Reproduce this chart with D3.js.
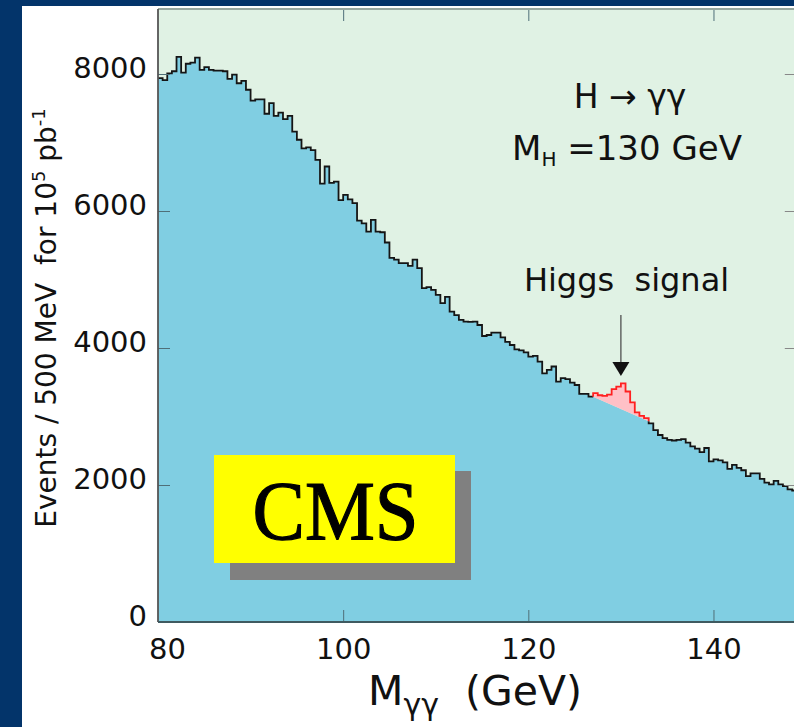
<!DOCTYPE html>
<html><head><meta charset="utf-8">
<script src="https://cdn.jsdelivr.net/npm/d3@7"></script>
<style>html,body{margin:0;padding:0;background:#fff;} svg{display:block;} text{white-space:pre;}</style>
</head><body>
<svg id="chart" width="794" height="727"></svg>
<script>
// ---------------- data ----------------
const binStart = 80;      // GeV
const binWidth = 0.5;     // GeV (500 MeV bins)
const counts = [
  7940, 7910, 8010, 8040, 8250, 8020, 8150, 8165, 8240, 8060,
  8100, 8060, 8050, 8050, 8040, 7930, 7990, 7865, 7900, 7770,
  7610, 7630, 7630, 7420, 7575, 7390, 7435, 7340, 7390, 7160,
  7040, 6915, 6930, 6890, 6745, 6400, 6650, 6410, 6430, 6160,
  6235, 6170, 6115, 5860, 5820, 5700, 5870, 5700, 5690, 5540,
  5315, 5290, 5240, 5240, 5200, 5290, 5165, 4875, 4890, 4850,
  4775, 4655, 4745, 4530, 4480, 4410, 4385, 4380, 4385, 4336,
  4175, 4190, 4225, 4225, 4156, 4090, 4044, 3980, 3965, 3935,
  3875, 3885, 3800, 3630, 3680, 3730, 3510, 3560, 3545, 3495,
  3460, 3330, 3330, 3290, 3340, 3310, 3300, 3320, 3400, 3435,
  3485, 3365, 3205, 3060, 3010, 2975, 2900, 2800, 2730, 2685,
  2660, 2650, 2660, 2670, 2620, 2565, 2530, 2480, 2540, 2345,
  2375, 2360, 2330, 2235, 2295, 2250, 2215, 2130, 2170, 2170,
  2090, 2035, 2010, 2060, 2010, 1985, 1935, 1920
];
const signalRange = [127, 133];              // GeV, bins drawn in red
const bkgFit = [[127, 3290], [133, 2930]];   // smooth background under the signal
const arrowAt = { x: 130, top: 4480, tip: 3590 };
const xTicks = [80, 100, 120, 140];
const yTicks = [0, 2000, 4000, 6000, 8000];
const xDomain = [80, 149];
const yDomain = [0, 8000];

// ---------------- layout ----------------
const svg = d3.select("#chart");
const W = 794, H = 727;
const plot = { left: 158, right: 796.8, top: 9, bottom: 622, yTopVal: 74 };
const FONT = "'DejaVu Sans', sans-serif";

const x = d3.scaleLinear().domain(xDomain).range([plot.left, plot.right]);
const y = d3.scaleLinear().domain(yDomain).range([plot.bottom, plot.yTopVal]);

// background & frame
svg.append("rect").attr("width", W).attr("height", H).attr("fill", "#ffffff");
svg.append("rect").attr("x", 0).attr("y", 0).attr("width", 22).attr("height", H).attr("fill", "#03346a");
svg.append("rect").attr("x", 0).attr("y", 0).attr("width", W).attr("height", 6).attr("fill", "#03346a");

svg.append("clipPath").attr("id", "clip").append("rect")
  .attr("x", plot.left).attr("y", plot.top)
  .attr("width", plot.right - plot.left).attr("height", plot.bottom - plot.top);

const g = svg.append("g").attr("clip-path", "url(#clip)");
g.append("rect").attr("x", plot.left).attr("y", plot.top)
  .attr("width", plot.right - plot.left).attr("height", plot.bottom - plot.top)
  .attr("fill", "#e0f2e4");

const bins = counts.map((v, i) => ({ x0: binStart + i * binWidth, x1: binStart + (i + 1) * binWidth, v }));
const inSig = b => b.x0 >= signalRange[0] - 1e-9 && b.x1 <= signalRange[1] + 1e-9;
const line = d3.line().x(d => x(d[0])).y(d => y(d[1]));

// blue filled background
const fillPts = [[binStart, 0]];
let fitAdded = false;
bins.forEach(b => {
  if (inSig(b)) { if (!fitAdded) { bkgFit.forEach(p => fillPts.push(p)); fitAdded = true; } }
  else { fillPts.push([b.x0, b.v], [b.x1, b.v]); }
});
fillPts.push([bins[bins.length - 1].x1, 0]);
g.append("path").attr("d", line(fillPts) + "Z").attr("fill", "#80cee2");

// signal (pink) region and red outline
const sigBins = bins.filter(inSig);
const redPts = [bkgFit[0]];
sigBins.forEach(b => redPts.push([b.x0, b.v], [b.x1, b.v]));
redPts.push(bkgFit[bkgFit.length - 1]);
g.append("path").attr("d", line(redPts.concat(bkgFit.slice().reverse())) + "Z").attr("fill", "#ffc0c6");

// black outlines
const segA = [], segB = [];
bins.forEach(b => {
  if (b.x1 <= signalRange[0] + 1e-9) segA.push([b.x0, b.v], [b.x1, b.v]);
  else if (b.x0 >= signalRange[1] - 1e-9) segB.push([b.x0, b.v], [b.x1, b.v]);
});
segB.unshift(bkgFit[bkgFit.length - 1]);
[segA, segB].forEach(s => g.append("path").attr("d", line(s))
  .attr("fill", "none").attr("stroke", "#151515").attr("stroke-width", 1.8).attr("stroke-linejoin", "miter"));
g.append("path").attr("d", line(redPts)).attr("fill", "none")
  .attr("stroke", "#ff2020").attr("stroke-width", 1.8);

// axes (inward ticks)
const tickStyle = sel => {
  sel.select(".domain").remove();
  sel.selectAll(".tick line").attr("stroke", "#4f6f78").attr("stroke-width", 1);
  sel.selectAll("text").attr("font-family", FONT).attr("font-size", 29).attr("fill", "#111");
};
const xb = svg.append("g").attr("transform", `translate(0,${plot.bottom})`)
  .call(d3.axisBottom(x).tickValues(xTicks).tickSize(-12).tickPadding(16).tickFormat(d3.format("d")))
  .call(tickStyle);
xb.selectAll(".tick").filter(d => d === 80).select("text").attr("x", 9);
xb.selectAll(".tick").filter(d => d === 80).select("line").remove();

svg.append("g").attr("transform", `translate(0,${plot.top})`)
  .call(d3.axisTop(x).tickValues(xTicks.slice(1)).tickSize(-12).tickFormat(""))
  .call(tickStyle);

const yl = svg.append("g").attr("transform", `translate(${plot.left},0)`)
  .call(d3.axisLeft(y).tickValues(yTicks).tickSize(-12).tickPadding(11).tickFormat(d3.format("d")))
  .call(tickStyle);
yl.selectAll("text").attr("y", -6);

svg.append("g").attr("transform", `translate(${plot.right},0)`)
  .call(d3.axisRight(y).tickValues(yTicks.slice(1)).tickSize(-12).tickFormat(""))
  .call(tickStyle)
  .selectAll(".tick line").attr("stroke", "#888");

// frame lines
svg.append("line").attr("x1", plot.left).attr("x2", plot.right).attr("y1", plot.top).attr("y2", plot.top)
  .attr("stroke", "#97a8a0").attr("stroke-width", 2);
svg.append("line").attr("x1", plot.left).attr("x2", plot.left).attr("y1", plot.top).attr("y2", plot.bottom)
  .attr("stroke", "#555").attr("stroke-width", 1.8);
svg.append("line").attr("x1", plot.left).attr("x2", plot.right).attr("y1", plot.bottom).attr("y2", plot.bottom)
  .attr("stroke", "#3f5a60").attr("stroke-width", 1.8);

// arrow to signal
const ax = x(arrowAt.x);
svg.append("line").attr("x1", ax).attr("x2", ax).attr("y1", y(arrowAt.top)).attr("y2", y(arrowAt.tip) - 12)
  .attr("stroke", "#444").attr("stroke-width", 1.2);
svg.append("path").attr("d", `M${ax - 8.5},${y(arrowAt.tip) - 14} L${ax + 8.5},${y(arrowAt.tip) - 14} L${ax},${y(arrowAt.tip)} Z`)
  .attr("fill", "#111");

// texts
const T = (xx, yy, size, anchor) => svg.append("text").attr("x", xx).attr("y", yy)
  .attr("font-family", FONT).attr("font-size", size).attr("text-anchor", anchor).attr("fill", "#111");

T(630, 108, 33, "middle").text("H \u2192 \u03b3\u03b3");
const mh = T(627, 160, 34, "middle");
mh.append("tspan").text("M");
mh.append("tspan").attr("font-size", 20).attr("dy", 6).text("H");
mh.append("tspan").attr("dy", -6).text(" =130 GeV");
T(626.5, 291, 32, "middle").text("Higgs  signal");

// x title
const xt = T(368, 705, 41, "start");
xt.append("tspan").text("M");
xt.append("tspan").attr("font-size", 30).attr("dy", 10).text("\u03b3\u03b3");
xt.append("tspan").attr("dy", -10).text("  (GeV)");

// y title
const yt = svg.append("text").attr("transform", "translate(56,318) rotate(-90)")
  .attr("font-family", FONT).attr("font-size", 28).attr("text-anchor", "middle").attr("fill", "#111");
yt.append("tspan").text("Events / 500 MeV  for 10");
yt.append("tspan").attr("font-size", 18).attr("dy", -11).text("5");
yt.append("tspan").attr("dy", 11).text(" pb");
yt.append("tspan").attr("font-size", 18).attr("dy", -11).text("-1");

// CMS box
svg.append("rect").attr("x", 230).attr("y", 471).attr("width", 241).attr("height", 109).attr("fill", "#808080");
svg.append("rect").attr("x", 214).attr("y", 455).attr("width", 241).attr("height", 108).attr("fill", "#ffff00");
svg.append("text").attr("x", 335.5).attr("y", 540).attr("text-anchor", "middle")
  .attr("font-family", "'Liberation Serif', 'Times New Roman', serif").attr("font-size", 84)
  .attr("stroke", "#000").attr("stroke-width", 1.2)
  .attr("textLength", 166).attr("lengthAdjust", "spacingAndGlyphs").attr("fill", "#000").text("CMS");
</script>
</body></html>
